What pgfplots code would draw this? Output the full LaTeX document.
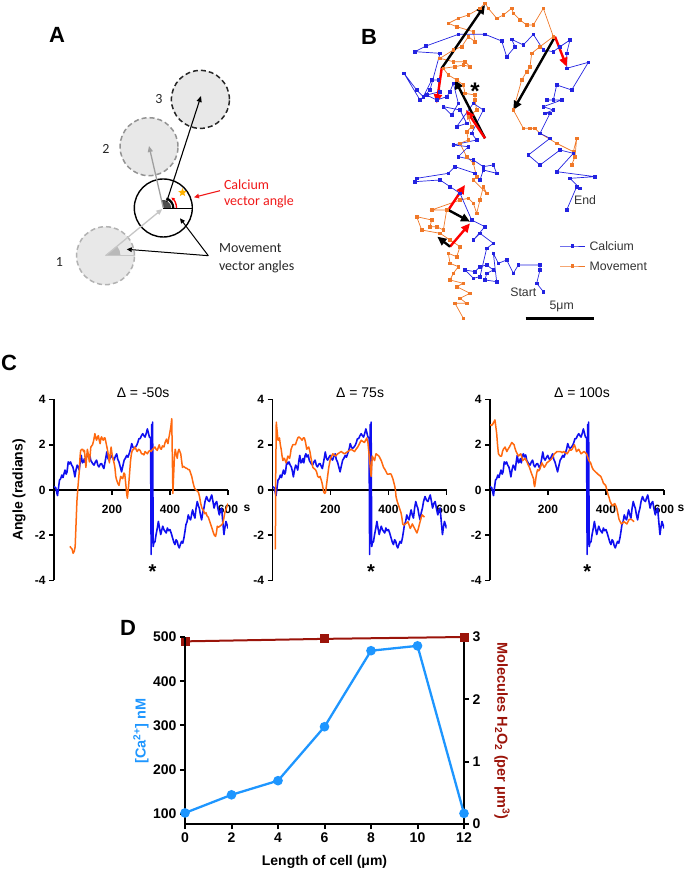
\documentclass[border=0pt]{standalone}
\usepackage{pgfplots}
\pgfplotsset{compat=1.18}
\usepackage{pgfplotstable}
\usepackage{fontspec}
\setmainfont{Liberation Sans}
\newfontfamily\calibri{Carlito}
\usetikzlibrary{arrows.meta,shapes.geometric}

\definecolor{cblue}{RGB}{15,15,240}
\definecolor{corange}{RGB}{255,105,15}
\definecolor{bblue}{RGB}{35,35,225}
\definecolor{borange}{RGB}{240,120,40}
\definecolor{dblue}{RGB}{30,150,255}
\definecolor{dred}{RGB}{155,20,10}
\definecolor{cred}{RGB}{240,25,25}

\newcommand{\fs}[1]{\fontsize{#1}{#1}\selectfont}

% calcium angle (same in all three C panels)
\pgfplotstableread{
x y
0 0.15
6 0.1
12 -0.25
19 0.44
23 0.5
27 0.66
31 0.55
35 0.75
38 0.88
42 0.7
45 0.8
49 1.24
53 1.15
57 1.24
61 1.1
65 1.02
69 0.8
72 0.58
76 0.9
80 1.1
84 1.0
87 0.88
91 1.3
94 1.53
98 1.2
101 1.24
105 1.39
108 1.2
112 1.5
115 1.6
119 1.46
123 1.55
127 1.3
130 1.24
134 1.15
138 1.1
143 1.25
147 1.32
151 1.1
155 1.02
160 1.15
164 1.17
168 1.05
172 0.95
177 1.3
182 1.68
186 1.4
190 1.32
195 1.45
199 1.53
203 1.4
207 1.32
212 1.5
216 1.6
220 1.35
224 1.24
229 1.0
233 0.8
238 1.1
242 1.32
246 1.4
251 1.53
255 1.45
259 1.6
264 1.8
268 2.05
272 1.9
276 1.83
281 1.9
285 1.97
289 2.1
293 2.27
297 2.27
302 2.41
306 2.49
310 2.4
314 2.34
318 2.5
322 2.7
326 2.5
329 2.34
333 2.3
335 -2.85
337 2.9
339 -2.0
340 3.0
342 -2.5
345 -2.3
348 -2.3
352 -1.97
356 -1.7
360 -1.39
364 -1.7
368 -1.97
371 -1.8
375 -1.6
379 -1.75
383 -1.83
387 -1.9
391 -1.68
395 -1.8
400 -1.75
404 -1.9
409 -2.12
413 -2.3
417 -2.41
421 -2.2
425 -2.27
428 -2.45
432 -2.56
436 -2.4
440 -2.27
444 -2.35
448 -2.12
452 -1.8
455 -1.53
459 -1.4
463 -1.1
467 -1.25
471 -1.32
475 -1.05
478 -0.88
482 -1.1
486 -1.24
490 -0.8
494 -0.51
498 -0.7
501 -0.8
505 -1.1
509 -1.32
513 -1.0
517 -0.8
521 -0.5
526 -0.29
531 -0.45
536 -0.51
540 -0.35
544 -0.22
548 -0.5
552 -0.8
556 -0.6
561 -0.51
565 -0.8
570 -1.1
574 -0.9
578 -0.8
582 -1.4
586 -1.97
590 -1.6
593 -1.39
597 -1.55
600 -1.7
}\bluetab

% movement angle, delta = -50 s
\pgfplotstableread{
x y
55 -2.49
58 -2.55
62 -2.6
66 -2.8
70 -2.7
73 -2.5
76 -1.5
79 -0.5
83 0.2
87 0.8
90 1.5
92 1.75
96 1.8
99 1.8
102 1.7
105 1.75
108 1.3
110 1.0
113 1.5
115 1.8
118 1.6
122 1.24
125 1.6
127 1.9
130 1.95
133 2.0
137 2.2
141 2.49
144 2.3
147 2.2
150 2.35
153 2.4
156 2.2
159 2.05
162 2.3
164 2.35
167 2.25
170 2.2
173 2.3
176 2.3
180 2.05
184 1.8
188 1.5
191 1.2
194 1.6
197 1.9
200 1.6
203 1.4
207 1.2
210 1.0
213 0.6
216 0.44
220 0.3
224 0.2
227 0.4
230 0.6
233 0.55
237 0.5
241 0.75
244 0.7
248 0.2
251 -0.2
253 -0.36
256 0.0
258 0.3
261 0.8
264 1.3
267 1.6
270 1.75
274 1.8
279 1.9
283 1.8
287 1.7
292 1.8
297 1.75
302 1.6
306 1.6
310 1.55
314 1.7
318 1.65
322 1.6
326 1.7
331 1.75
335 1.7
340 1.8
344 1.85
348 1.9
352 1.8
356 1.75
360 1.9
363 2.0
366 1.85
370 1.8
374 1.95
379 1.9
383 2.1
388 2.25
391 2.1
393 2.05
396 2.3
399 2.5
403 2.8
406 3.15
408 1.5
410 -0.15
412 0.5
415 1.4
418 1.8
421 1.6
425 1.4
428 1.7
431 1.8
434 1.7
437 1.6
440 1.3
443 1.0
447 1.05
451 1.0
455 0.97
459 0.95
463 0.9
467 0.9
471 0.75
475 0.6
479 0.35
483 0.15
486 0.05
490 0.0
494 -0.05
498 -0.1
502 -0.3
506 -0.6
510 -0.8
515 -0.9
520 -1.05
524 -1.0
528 -1.15
532 -1.2
536 -1.35
540 -1.5
545 -1.7
550 -1.9
553 -2.0
557 -2.05
560 -1.9
563 -1.6
567 -1.65
572 -1.6
577 -1.55
581 -1.5
585 -1.3
589 -1.0
593 -0.85
597 -0.7
600 -0.6
}\orangeA

% movement angle, delta = 75 s
\pgfplotstableread{
x y
7 -2.6
10 -2.6
11 0.5
13 3.0
16 2.6
19 2.2
22 2.2
24 2.3
27 2.0
30 1.8
33 1.5
36 1.3
39 1.4
41 1.4
44 1.3
47 1.2
50 1.35
53 1.5
56 1.45
59 1.4
62 1.6
64 1.8
67 1.9
70 2.0
75 2.0
79 2.0
83 2.15
87 2.3
91 2.35
95 2.3
99 2.25
102 2.2
106 2.3
110 2.3
114 2.1
118 1.8
121 1.85
125 1.9
129 1.7
133 1.4
136 1.2
139 1.0
143 0.95
148 0.9
152 0.8
156 0.6
160 0.55
164 0.6
168 0.45
171 0.3
174 0.1
177 -0.1
180 -0.15
183 -0.1
186 0.2
188 0.4
191 0.7
194 1.0
197 1.2
200 1.4
204 1.5
208 1.6
212 1.55
217 1.5
221 1.55
225 1.6
231 1.65
237 1.7
242 1.65
248 1.6
254 1.65
260 1.7
265 1.75
271 1.8
277 1.75
283 1.7
288 1.8
294 1.9
300 2.05
306 2.2
311 2.15
317 2.1
321 2.2
325 2.3
329 2.1
332 1.7
335 1.3
337 1.0
340 0.6
342 1.0
344 1.5
348 1.4
352 1.3
355 1.5
357 1.6
362 1.55
367 1.5
371 1.4
375 1.3
379 1.15
383 1.0
388 0.9
392 0.8
396 0.7
401 0.7
405 0.72
409 0.7
412 0.6
415 0.5
418 0.35
421 0.2
424 0.0
426 -0.3
430 -0.5
435 -0.7
439 -0.85
443 -1.0
446 -1.2
449 -1.5
453 -1.55
458 -1.5
463 -1.45
467 -1.4
471 -1.55
475 -1.7
479 -1.6
482 -1.5
486 -1.6
490 -1.7
494 -1.8
498 -1.9
502 -1.75
505 -1.6
509 -1.4
513 -1.2
516 -1.1
520 -1.15
524 -1.2
}\orangeB

% movement angle, delta = 100 s
\pgfplotstableread{
x y
0 2.9
5 2.85
9 2.9
13 3.0
17 3.1
20 2.8
23 2.5
26 2.0
29 1.6
32 1.55
35 1.5
38 1.5
40 1.5
43 1.7
46 1.8
49 1.85
52 1.9
55 1.8
58 1.7
62 1.8
67 1.9
71 2.0
75 2.1
79 2.05
83 2.0
86 1.85
90 1.7
94 1.6
98 1.5
102 1.55
106 1.6
110 1.45
113 1.3
117 1.35
121 1.4
125 1.3
129 1.2
132 1.1
136 1.0
140 0.85
144 0.7
147 0.6
150 0.5
152 0.25
154 0.15
157 0.4
159 0.6
162 0.8
164 0.9
168 0.85
171 0.9
175 1.05
179 1.2
183 1.1
187 1.0
192 1.1
196 1.2
201 1.25
206 1.3
210 1.35
214 1.4
218 1.5
222 1.6
227 1.65
231 1.7
237 1.7
243 1.7
249 1.65
254 1.7
260 1.65
266 1.6
271 1.7
275 1.8
279 1.75
283 1.8
287 1.9
291 2.0
295 1.85
298 1.7
302 1.75
306 1.8
310 1.7
314 1.6
319 1.65
324 1.7
329 1.65
333 1.6
337 1.45
341 1.3
344 1.25
347 1.2
352 1.0
356 0.9
360 0.85
364 0.8
368 0.75
372 0.7
377 0.65
382 0.6
387 0.45
391 0.3
395 0.25
399 0.2
403 0.0
407 -0.2
411 -0.35
414 -0.5
418 -0.6
422 -0.7
426 -0.65
430 -0.6
434 -0.7
437 -0.8
441 -1.05
445 -1.3
449 -1.4
453 -1.5
458 -1.45
462 -1.4
467 -1.45
472 -1.5
476 -1.4
480 -1.3
484 -1.3
488 -1.3
492 -1.35
497 -1.4
}\orangeC

\pgfplotsset{
  cpanel/.style={
    anchor=south west, scale only axis, width=174pt, height=181pt,
    xmin=0, xmax=600, ymin=-4, ymax=4, enlargelimits=false,
    axis x line=middle, axis y line=left,
    axis line style={-, line width=1.6pt},
    hide obscured x ticks=false, hide obscured y ticks=false,
    xtick={200,400,600}, xticklabels={200,400,600},
    ytick={-4,-2,0,2,4}, yticklabels={-4,-2,0,2,4},
    tick align=outside, major tick length=5pt,
    tick style={black, line width=1.6pt},
    tick label style={font=\fs{12}\bfseries},
    x tick label style={yshift=-6.5pt},
    clip mode=individual,
  },
  bluecurve/.style={cblue, line width=1.6pt, line join=round},
  orangecurve/.style={corange, line width=1.5pt, line join=round},
}
\tikzset{
  barrow/.style={black, line width=2.4pt, -{Triangle[length=9pt,width=8pt]}},
  rarrow/.style={red, line width=2.4pt, -{Triangle[length=9pt,width=8pt]}},
}

\begin{document}
\begin{tikzpicture}[x=1pt,y=1pt]
\path[use as bounding box] (0,0) rectangle (685,872);

% ---------------- A: schematic ----------------
\begin{axis}[at={(0pt,542pt)}, anchor=south west, scale only axis,
  width=340pt, height=330pt, xmin=0, xmax=340, ymin=-330, ymax=0,
  hide axis, clip=false]
\addplot[draw=none] coordinates {(0,0)};
\draw[gray!60, fill=gray!18, line width=1.5pt, dash pattern=on 5pt off 3pt] (105.5,-255.7) circle[radius=29pt];
\draw[gray!85, fill=gray!18, line width=1.5pt, dash pattern=on 5pt off 3pt] (149,-146.7) circle[radius=29pt];
\draw[black!85, fill=gray!18, line width=1.5pt, dash pattern=on 5pt off 3pt] (200.4,-99.4) circle[radius=29pt];
\draw[black, fill=white, line width=1.4pt] (163.3,-208) circle[radius=29pt];
% angle wedges
\fill[gray!55] (105.5,-255.7) -- (120.5,-255.7) arc[start angle=0, end angle=39, radius=15pt] -- cycle;
\draw[gray!45, line width=0.7pt] (105.5,-255.7) -- (134,-255.7);
\fill[gray!60!black] (163.3,-208) -- (171.3,-208) arc[start angle=0, end angle=102, radius=8pt] -- cycle;
\draw[black, line width=0.6pt] (163.3,-208) -- (192.3,-208);
\draw[black, line width=2.2pt] (173.3,-208) arc[start angle=0, end angle=72, radius=10pt];
\draw[red, line width=1.4pt, -{Stealth[length=3.5pt,width=3.5pt]}] (176.5,-208) arc[start angle=0, end angle=52, radius=13.2pt];
\node[star, star points=5, star point ratio=2.3, fill=orange!60!yellow, minimum size=9pt, inner sep=0pt] at (182.5,-192.5) {};
% movement vectors
\draw[gray!45, line width=1.3pt, -{Triangle[length=6pt,width=5pt]}] (105.5,-255.7) -- (162.3,-209);
\draw[gray!75, line width=1.3pt, -{Triangle[length=6pt,width=5pt]}] (163.3,-208) -- (149,-146);
\draw[black, line width=1.1pt, -{Triangle[length=6pt,width=5pt]}] (166.7,-201.7) -- (201,-96);
% annotation arrows
\draw[cred, line width=1.1pt, -{Triangle[length=5pt,width=4.5pt]}] (220,-190.7) -- (194,-197.3);
\draw[black, line width=1pt, -{Triangle[length=5pt,width=4.5pt]}] (208.3,-255.7) -- (126.7,-249.3);
\draw[black, line width=1pt, -{Triangle[length=5pt,width=4.5pt]}] (208.3,-255.7) -- (180,-218.3);
\node[font=\calibri\fs{14}, text=cred, anchor=west] at (220.5,-185) {Calcium};
\node[font=\calibri\fs{14}, text=cred, anchor=west] at (220.5,-202) {vector angle};
\node[font=\calibri\fs{14}, text=black!85, anchor=west] at (215.5,-248.5) {Movement};
\node[font=\calibri\fs{14}, text=black!85, anchor=west] at (215.5,-266.5) {vector angles};
\node[font=\calibri\fs{14}, text=black!85] at (59.3,-262.3) {1};
\node[font=\calibri\fs{14}, text=black!85] at (106,-149) {2};
\node[font=\calibri\fs{14}, text=black!85] at (159,-99) {3};
\end{axis}

% ---------------- B: trajectories ----------------
\begin{axis}[at={(340pt,542pt)}, anchor=south west, scale only axis,
  width=345pt, height=330pt, xmin=0, xmax=1035, ymin=0, ymax=990,
  y dir=reverse, hide axis, clip=false]
\addplot[borange, line width=0.7pt, mark=square*, mark size=1.3pt] coordinates {
(370,955)(345,910)(380,910)(360,895)(390,880)(350,860)(370,850)(330,840)(340,820)(355,800)
(330,790)(325,760)(350,770)(360,740)(330,720)(300,700)(245,690)(230,650)(275,660)(270,680)
(290,680)(310,690)(320,630)(275,630)(360,600)(385,595)(400,610)(410,640)(420,600)(430,560)
(440,580)(400,540)(410,530)(400,490)(380,470)(360,430)(385,420)(380,395)(395,380)(385,350)
(410,330)(405,300)(405,285)(375,280)(370,255)(350,240)(325,225)(310,205)(345,200)(370,195)
(390,200)(375,185)(340,185)(300,175)(340,150)(365,140)(385,110)(405,125)(400,95)(350,80)
(325,70)(355,55)(385,45)(420,25)(435,10)(445,25)(470,55)(490,45)(515,25)(520,40)
(540,60)(560,75)(580,75)(610,25)(640,110)(600,140)(575,160)(570,200)(560,215)(545,240)
(520,330)(550,385)(570,385)(585,385)(600,400)(650,430)(700,455)(710,415)(705,470)(695,495)};
\addplot[bblue, line width=0.7pt, mark=square*, mark size=1.3pt] coordinates {
(610,875)(590,850)(600,810)(600,795)(535,795)(520,820)(500,780)(475,790)(460,760)(470,845)
(435,840)(440,820)(460,810)(440,795)(420,800)(405,815)(375,810)(400,835)(420,830)(440,745)
(460,730)(420,700)(400,720)(435,680)(395,660)(360,580)(330,560)(300,540)(225,545)(230,535)
(325,520)(345,500)(405,520)(420,540)(430,510)(470,520)(460,495)(430,500)(400,480)(355,470)
(385,440)(340,435)(410,420)(395,400)(430,330)(400,310)(350,380)(380,370)(360,330)(310,320)
(335,345)(355,310)(340,250)(330,275)(320,290)(290,300)(260,285)(300,275)(295,240)(275,240)
(250,290)(230,270)(192,220)(240,300)(270,270)(300,160)(225,155)(258,138)(355,103)(435,103)
(485,123)(500,170)(525,140)(515,118)(550,135)(580,103)(610,150)(640,155)(660,140)(690,120)
(680,160)(680,205)(745,187)(695,270)(650,255)(640,300)(620,300)(665,300)(610,320)(640,330)
(615,340)(630,340)(600,400)(630,415)(565,465)(600,495)(660,450)(700,460)(650,515)(765,530)
(690,535)(720,565)(710,560)(680,630)};
% legend samples
\addplot[bblue, line width=0.7pt, mark=square*, mark size=1.3pt, mark indices={2}] coordinates {(660,738)(697,738)(735,738)};
\addplot[borange, line width=0.7pt, mark=square*, mark size=1.3pt, mark indices={2}] coordinates {(660,798)(697,798)(735,798)};
% vectors
\draw[barrow] (305,205) -- (435,15);
\draw[barrow] (645,110) -- (520,330);
\draw[barrow] (435,415) -- (345,240);
\draw[rarrow] (435,415) -- (378,330);
\draw[rarrow] (305,205) -- (290,310);
\draw[rarrow] (645,110) -- (680,200);
\draw[rarrow] (325,630) -- (375,555);
\draw[barrow] (325,630) -- (390,665);
\draw[rarrow] (330,740) -- (390,670);
\draw[barrow] (330,740) -- (292,710);
\node[font=\fs{24}\bfseries, yshift=-5pt] at (405,258) {*};
\node[font=\fs{12.3}, text=black!80, anchor=west] at (738,738) {Calcium};
\node[font=\fs{12.3}, text=black!80, anchor=west] at (738,800) {Movement};
\node[font=\fs{12.3}, text=black!80] at (735,600) {End};
\node[font=\fs{12.3}, text=black!80] at (550,878) {Start};
\node[font=\fs{12.3}, text=black!80] at (665,920) {5μm};
\draw[black, line width=2.6pt] (557,955) -- (763,955);
\end{axis}

% ---------------- C: angle traces ----------------
\begin{axis}[cpanel, at={(54pt,291.5pt)}]
\addplot[bluecurve] table {\bluetab};
\addplot[orangecurve] table {\orangeA};
\node[font=\fs{14}] at (axis cs:307,4) [yshift=6.5pt] {Δ = -50s};
\node[font=\fs{20}\bfseries] at (axis cs:340,-3.42) [yshift=-4.3pt] {*};
\node[font=\fs{12}\bfseries] at (axis cs:600,0) [xshift=19pt, yshift=-18pt] {s};
\end{axis}

\begin{axis}[cpanel, at={(272.5pt,291.5pt)}]
\addplot[bluecurve] table {\bluetab};
\addplot[orangecurve] table {\orangeB};
\node[font=\fs{14}] at (axis cs:302,4) [yshift=6.5pt] {Δ = 75s};
\node[font=\fs{20}\bfseries] at (axis cs:340,-3.42) [yshift=-4.3pt] {*};
\node[font=\fs{12}\bfseries] at (axis cs:600,0) [xshift=16pt, yshift=-18pt] {s};
\end{axis}

\begin{axis}[cpanel, at={(490pt,291.5pt)}]
\addplot[bluecurve] table {\bluetab};
\addplot[orangecurve] table {\orangeC};
\node[font=\fs{14}] at (axis cs:317,4) [yshift=6.5pt] {Δ = 100s};
\node[font=\fs{20}\bfseries] at (axis cs:335,-3.42) [yshift=-4.3pt] {*};
\node[font=\fs{12}\bfseries] at (axis cs:600,0) [xshift=17pt, yshift=-18pt] {s};
\end{axis}

\node[font=\fs{14}\bfseries, rotate=90] at (19,382) {Angle (radians)};

% ---------------- D: model ----------------
\begin{axis}[at={(185pt,48pt)}, anchor=south west, scale only axis,
  width=279pt, height=187pt, xmin=0, xmax=12, ymin=0, ymax=3, enlargelimits=false,
  axis x line=none, axis y line=right,
  axis line style={-, line width=2.3pt},
  ytick={0,1,2,3}, yticklabels={0,1,2,3},
  tick align=outside, major tick length=5pt, tick style={black, line width=2pt},
  tick label style={font=\fs{14}\bfseries},
  clip=false]
\addplot[dred, line width=2pt, mark=square*, mark size=3.5pt] coordinates {(0,2.93)(6,2.97)(12,3.0)};
\end{axis}
\begin{axis}[at={(185pt,48pt)}, anchor=south west, scale only axis,
  width=279pt, height=187pt, xmin=0, xmax=12, ymin=77, ymax=500, enlargelimits=false,
  axis x line=bottom, axis y line=left,
  axis line style={-, line width=2.3pt},
  xtick={0,2,4,6,8,10,12}, xticklabels={0,2,4,6,8,10,12},
  ytick={100,200,300,400,500}, yticklabels={100,200,300,400,500},
  tick align=outside, major tick length=5pt, tick style={black, line width=2pt},
  tick label style={font=\fs{14}\bfseries},
  clip=false]
\addplot[dblue, line width=2.3pt, mark=*, mark size=3.6pt] coordinates {(0,102)(2,143)(4,175)(6,297)(8,469)(10,480)(12,101)};
\end{axis}
\node[font=\fs{14}\bfseries] at (324.5,10) {Length of cell (μm)};
\node[font=\fs{14.5}\bfseries, text=dblue, rotate=90] at (141,141) {[Ca\textsuperscript{2+}] nM};
\node[font=\fs{14.5}\bfseries, text=dred, rotate=-90] at (502,141) {Molecules H\textsubscript{2}O\textsubscript{2} (per μm\textsuperscript{3})};

% panel letters
\node[font=\fs{22}\bfseries] at (57,837) {A};
\node[font=\fs{22}\bfseries] at (369,835) {B};
\node[font=\fs{22}\bfseries] at (9,509) {C};
\node[font=\fs{22}\bfseries] at (128,244) {D};
\end{tikzpicture}
\end{document}
